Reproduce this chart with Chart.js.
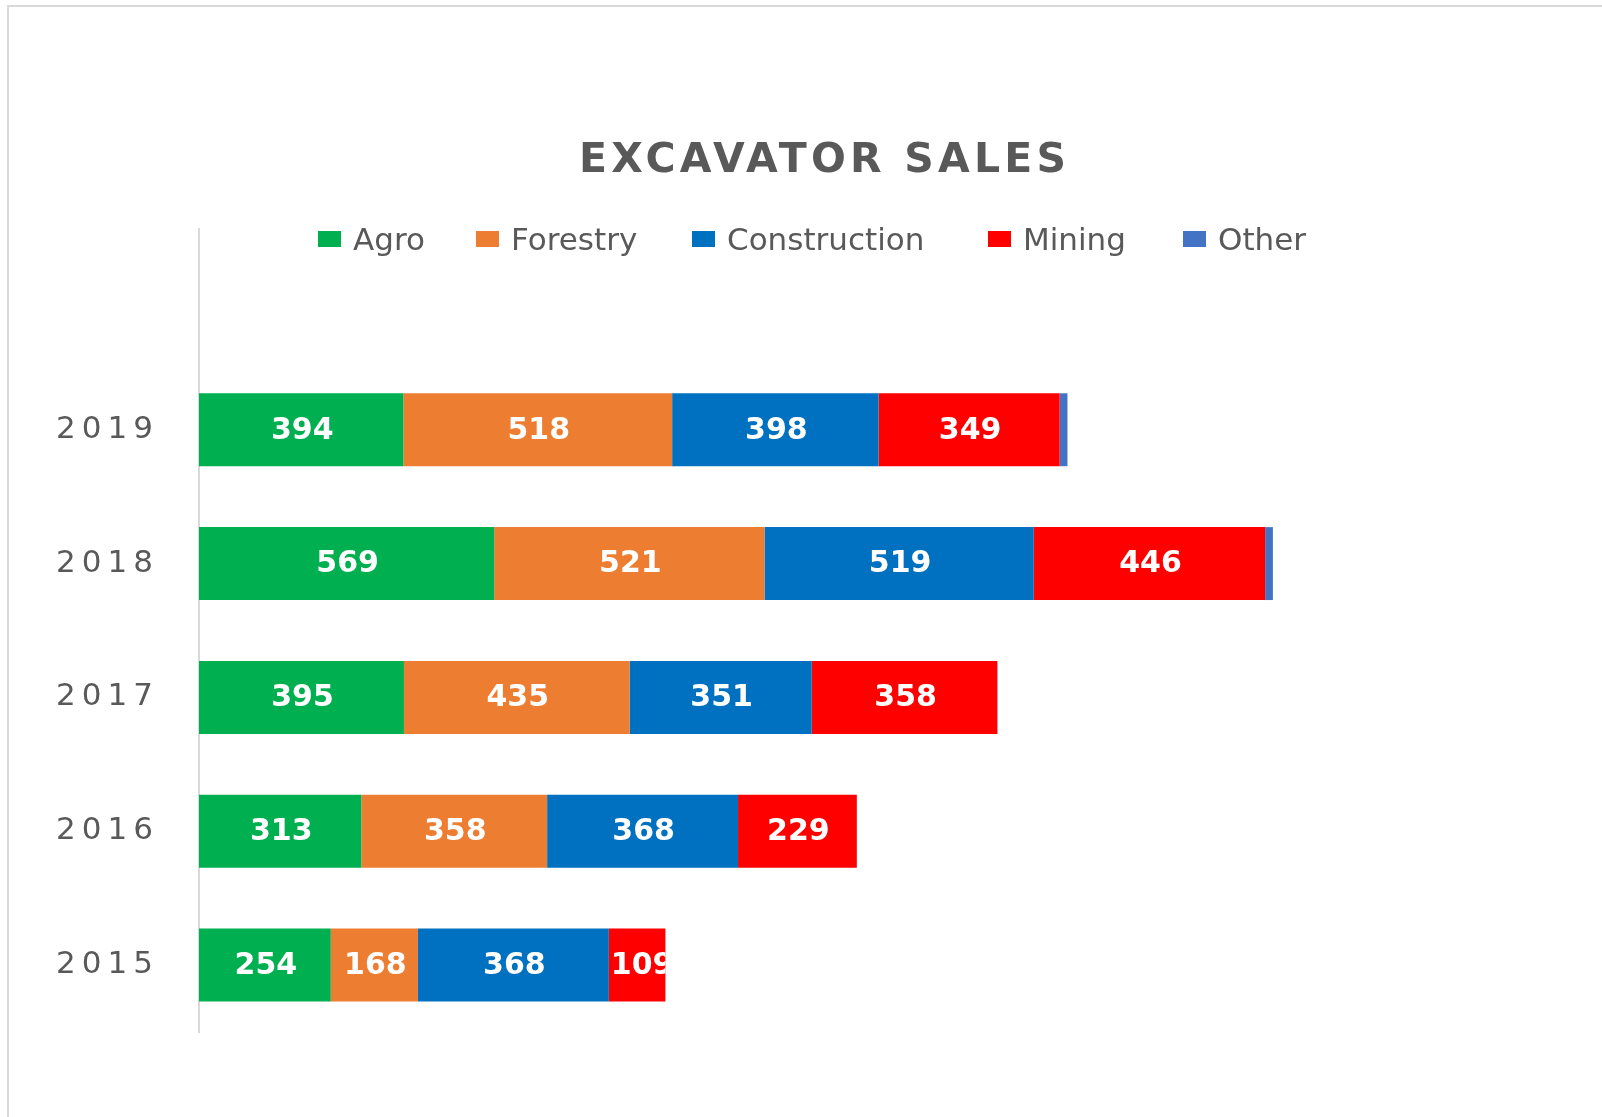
<!DOCTYPE html>
<html>
<head>
<meta charset="utf-8">
<script src="https://cdn.jsdelivr.net/npm/chart.js@4.4.1/dist/chart.umd.min.js"></script>
<style>
  html, body { margin:0; padding:0; background:#ffffff; overflow:hidden; width:1602px; height:1117px; }
  #frame { position:absolute; left:7px; top:5px; width:1700px; height:1300px; border:2px solid #d9d9d9; box-sizing:border-box; }
  #wrap { position:absolute; left:0; top:0; width:1602px; height:1117px; }
  #title { position:absolute; left:579px; top:138px; font:700 41px 'DejaVu Sans'; line-height:40px; color:#595959; white-space:nowrap; }
  .lg { position:absolute; top:224px; height:30px; display:flex; align-items:center; white-space:nowrap;
        font:31px 'DejaVu Sans'; color:#595959; line-height:30px; }
  .lg i { display:inline-block; width:23px; height:16px; margin-right:12px; }
</style>
</head>
<body>
<div id="frame"></div>
<div id="wrap"><canvas id="c" width="1602" height="1117"></canvas></div>
<div id="title">EXCAVATOR SALES</div>
<div id="legend"></div>
<script>
// ---- data (years bottom-to-top, as in the original sheet) ----
const years        = ['2015', '2016', '2017', '2018', '2019'];
const seriesNames  = ['Agro', 'Forestry', 'Construction', 'Mining', 'Other'];
const agro         = [254, 313, 395, 569, 394];
const forestry     = [168, 358, 435, 521, 518];
const construction = [368, 368, 351, 519, 398];
const mining       = [109, 229, 358, 446, 349];
const other        = [0, 0, 0, 15, 15];
const seriesColors = ['#00B050', '#ED7D31', '#0070C0', '#FF0000', '#4472C4'];
const axisMax      = 2500;

// layout (not data)
const legendLeft = [318, 476, 692, 988, 1183];

// top-to-bottom categories with an empty slot above 2019
const labels = [''].concat(years.slice().reverse());
const toRows = arr => [null].concat(arr.slice().reverse());
const seriesValues = [agro, forestry, construction, mining, other];

const datasets = seriesNames.map((name, i) => ({
  label: name,
  data: toRows(seriesValues[i]),
  backgroundColor: seriesColors[i],
  borderWidth: 0,
  noLabels: name === 'Other'
}));

// ---- HTML legend ----
const lg = document.getElementById('legend');
seriesNames.forEach((name, i) => {
  const d = document.createElement('div');
  d.className = 'lg';
  d.style.left = legendLeft[i] + 'px';
  const sw = document.createElement('i');
  sw.style.background = seriesColors[i];
  d.appendChild(sw);
  d.appendChild(document.createTextNode(name));
  lg.appendChild(d);
});

// ---- title letter spacing to match width ----
const t = document.getElementById('title');
const w0 = t.getBoundingClientRect().width;
const n = t.textContent.length;
t.style.letterSpacing = Math.max(0, (487 - w0) / (n - 1)) + 'px';

// ---- plugins ----
const tickSpacing = {
  id: 'tickSpacing',
  beforeDraw(chart) { chart.ctx.letterSpacing = '6px'; },
  beforeDatasetsDraw(chart) { chart.ctx.letterSpacing = '0px'; }
};

const valueLabels = {
  id: 'valueLabels',
  afterDatasetsDraw(chart) {
    const ctx = chart.ctx;
    chart.data.datasets.forEach((ds, di) => {
      if (ds.noLabels) return;
      const meta = chart.getDatasetMeta(di);
      meta.data.forEach((el, i) => {
        const v = ds.data[i];
        if (v == null || v === 0) return;
        const p = el.getProps(['x', 'y', 'base', 'height'], true);
        const left = Math.min(p.x, p.base), right = Math.max(p.x, p.base), w = right - left;
        ctx.save();
        ctx.letterSpacing = '0px';
        ctx.font = 'bold 30px "DejaVu Sans"';
        ctx.fillStyle = '#ffffff';
        ctx.textBaseline = 'middle';
        const txt = String(v);
        const tw = ctx.measureText(txt).width;
        ctx.beginPath();
        ctx.rect(left, p.y - p.height / 2, w, p.height);
        ctx.clip();
        if (tw + 4 > w) { ctx.textAlign = 'left'; ctx.fillText(txt, left + 2, p.y + 1); }
        else { ctx.textAlign = 'center'; ctx.fillText(txt, (left + right) / 2 + 1, p.y + 1); }
        ctx.restore();
      });
    });
  }
};

new Chart(document.getElementById('c').getContext('2d'), {
  type: 'bar',
  data: { labels, datasets },
  options: {
    indexAxis: 'y',
    responsive: false,
    animation: false,
    layout: { padding: { top: 229, bottom: 85, left: 0, right: 106 } },
    datasets: { bar: { categoryPercentage: 1, barPercentage: 0.545 } },
    plugins: { legend: { display: false }, title: { display: false }, tooltip: { enabled: false } },
    scales: {
      x: { stacked: true, display: false, min: 0, max: axisMax },
      y: {
        stacked: true,
        grid: { display: false, drawTicks: false },
        border: { display: true, color: '#d9d9d9', width: 2 },
        ticks: { font: { family: 'DejaVu Sans', size: 31 }, color: '#595959', padding: 40 },
        afterFit(s) { s.width = 199; }
      }
    }
  },
  plugins: [tickSpacing, valueLabels]
});
</script>
</body>
</html>
